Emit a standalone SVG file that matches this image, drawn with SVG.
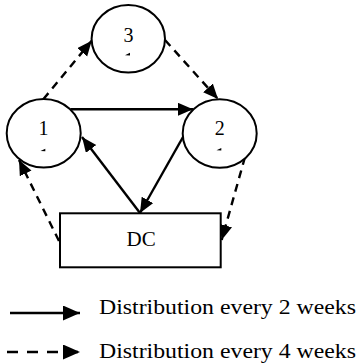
<svg xmlns="http://www.w3.org/2000/svg" width="360" height="364" viewBox="0 0 360 364">
<style>
.node{fill:#fff;stroke:#000;stroke-width:2}
.lbl{font-family:"Liberation Serif","Times New Roman",serif;fill:#000;text-anchor:middle}
.solid{fill:none;stroke:#000;stroke-width:2.4;marker-end:url(#ah)}
.dash{fill:none;stroke:#000;stroke-width:2.4;stroke-dasharray:8 6;marker-end:url(#ah)}
.mark{fill:#000}
</style>
<defs>
<marker id="ah" markerUnits="userSpaceOnUse" markerWidth="16" markerHeight="14" refX="15" refY="6.5" orient="auto">
<path d="M0,0 L15,6.5 L0,13 Z" fill="#000"/>
</marker>
<marker id="ahL" markerUnits="userSpaceOnUse" markerWidth="18" markerHeight="16" refX="17" refY="7.5" orient="auto">
<path d="M0,0 L17,7.5 L0,15 Z" fill="#000"/>
</marker>
</defs>
<g id="connectors">
<line class="solid" x1="70.5" y1="109.3" x2="193" y2="109.3"/>
<line class="solid" x1="183" y1="137" x2="140" y2="213"/>
<line class="solid" x1="140" y1="213" x2="82" y2="137"/>
<line class="dash" x1="43.3" y1="99.3" x2="91.7" y2="40.7"/>
<line class="dash" x1="165" y1="40" x2="218" y2="99"/>
<line class="dash" x1="59" y1="241" x2="19" y2="160"/>
<line class="dash" x1="245" y1="157" x2="221.7" y2="240"/>
</g>
<g id="node3">
<ellipse class="node" cx="128.3" cy="38.8" rx="36.7" ry="33.8"/>
<text class="lbl" x="128.5" y="41.7" font-size="20">3</text>
<polygon class="mark" points="125,55.3 130,52.7 130,55.5"/>
</g>
<g id="node1">
<ellipse class="node" cx="43.7" cy="133.3" rx="37" ry="34.3"/>
<text class="lbl" x="43.5" y="135" font-size="20">1</text>
<polygon class="mark" points="40.5,151 45.3,148.7 45.3,151.2"/>
</g>
<g id="node2">
<ellipse class="node" cx="219.7" cy="133.5" rx="37" ry="34.2"/>
<text class="lbl" x="219.7" y="135" font-size="20">2</text>
<polygon class="mark" points="216.5,150.3 221.3,148 221.3,150.5"/>
</g>
<g id="DC">
<rect class="node" x="60" y="213.3" width="160.7" height="54"/>
<text class="lbl" x="141.2" y="245.7" font-size="21">DC</text>
</g>
<g id="legend">
<line x1="10" y1="313" x2="80" y2="313" stroke="#000" stroke-width="2.4" marker-end="url(#ahL)"/>
<text x="99" y="314.3" font-family="Liberation Serif, Times New Roman, serif" font-size="22" textLength="257" lengthAdjust="spacingAndGlyphs">Distribution every 2 weeks</text>
<line x1="7" y1="352" x2="80" y2="352" stroke="#000" stroke-width="2.4" stroke-dasharray="11 9" marker-end="url(#ahL)"/>
<text x="99" y="358.3" font-family="Liberation Serif, Times New Roman, serif" font-size="22" textLength="257" lengthAdjust="spacingAndGlyphs">Distribution every 4 weeks</text>
</g>
</svg>
